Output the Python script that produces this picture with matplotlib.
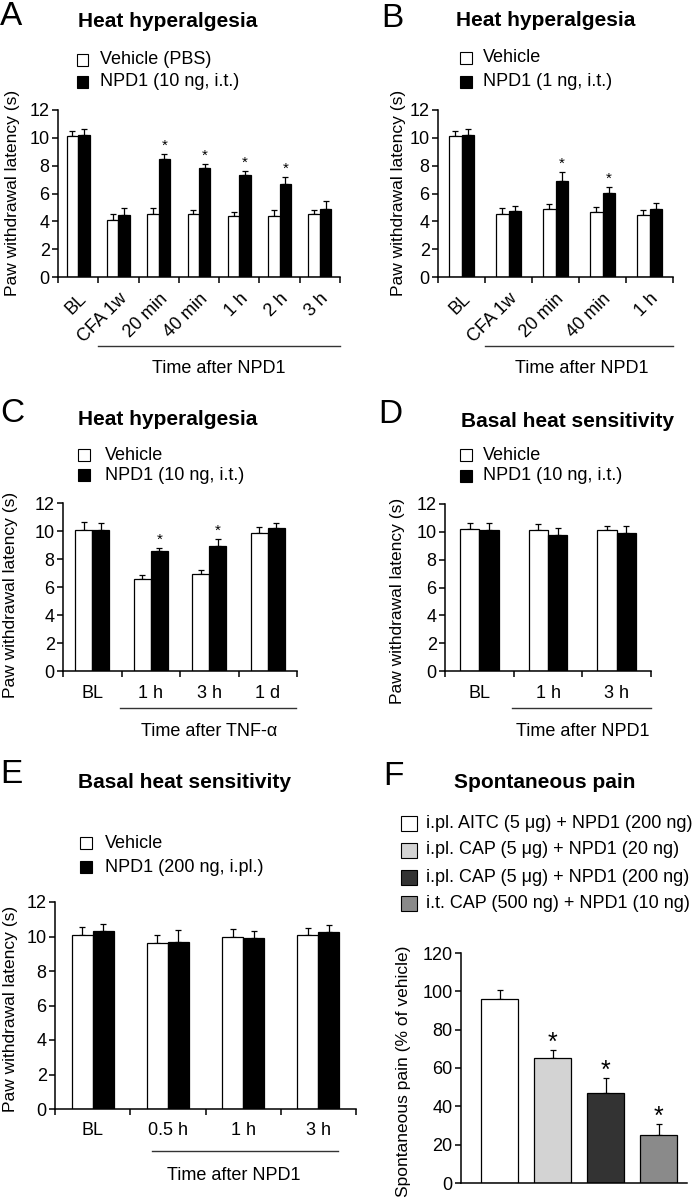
import numpy as np
import matplotlib
matplotlib.use("Agg")
import matplotlib.pyplot as plt
from matplotlib.patches import Rectangle
from matplotlib import transforms

plt.rcParams['font.family'] = ['Liberation Sans', 'DejaVu Sans']

# ---------------- data ----------------
a_cats = ['BL', 'CFA 1w', '20 min', '40 min', '1 h', '2 h', '3 h']
a_veh = [10.1, 4.1, 4.5, 4.5, 4.4, 4.4, 4.5]
a_veh_err = [0.4, 0.4, 0.45, 0.3, 0.3, 0.4, 0.3]
a_npd = [10.2, 4.45, 8.5, 7.8, 7.3, 6.7, 4.9]
a_npd_err = [0.4, 0.5, 0.35, 0.35, 0.35, 0.5, 0.55]
a_stars = [2, 3, 4, 5]

b_cats = ['BL', 'CFA 1w', '20 min', '40 min', '1 h']
b_veh = [10.1, 4.55, 4.9, 4.65, 4.45]
b_veh_err = [0.4, 0.4, 0.35, 0.35, 0.4]
b_npd = [10.2, 4.75, 6.9, 6.05, 4.9]
b_npd_err = [0.4, 0.35, 0.65, 0.45, 0.4]
b_stars = [2, 3]

c_cats = ['BL', '1 h', '3 h', '1 d']
c_veh = [10.05, 6.55, 6.9, 9.85]
c_veh_err = [0.6, 0.3, 0.3, 0.45]
c_npd = [10.1, 8.55, 8.9, 10.2]
c_npd_err = [0.45, 0.25, 0.5, 0.35]
c_stars = [1, 2]

d_cats = ['BL', '1 h', '3 h']
d_veh = [10.2, 10.15, 10.1]
d_veh_err = [0.4, 0.4, 0.35]
d_npd = [10.15, 9.75, 9.9]
d_npd_err = [0.45, 0.5, 0.5]
d_stars = []

e_cats = ['BL', '0.5 h', '1 h', '3 h']
e_veh = [10.1, 9.65, 10.0, 10.1]
e_veh_err = [0.45, 0.45, 0.45, 0.4]
e_npd = [10.3, 9.7, 9.9, 10.25]
e_npd_err = [0.4, 0.65, 0.4, 0.4]
e_stars = []

f_labels = ['i.pl. AITC (5 μg) + NPD1 (200 ng)', 'i.pl. CAP (5 μg) + NPD1 (20 ng)',
            'i.pl. CAP (5 μg) + NPD1 (200 ng)', 'i.t. CAP (500 ng) + NPD1 (10 ng)']
f_vals = [96, 65, 47, 25]
f_err = [4.5, 4.3, 8.0, 5.8]
f_colors = ['white', '#d3d3d3', '#333333', '#8a8a8a']
f_stars = [1, 2, 3]

# ---------------- layout helpers ----------------
W, H = 696, 1199
fig = plt.figure(figsize=(W / 100, H / 100), dpi=100)

TXT = 12.5
TICK = 13
CAT = 13


def add_ax(x0, x1, ytop, ybot):
    ax = fig.add_axes([x0 / W, 1 - ybot / H, (x1 - x0) / W, (ybot - ytop) / H])
    ax.px = (x0, x1, ytop, ybot)
    return ax


def ftext(x, y, s, **kw):
    fig.text(x / W, 1 - y / H, s, **kw)


def legend(x_sq, sq_w, sq_h, x_text, rows, labels, colors, fs=TXT):
    for y, lab, c in zip(rows, labels, colors):
        fig.add_artist(Rectangle((x_sq / W, 1 - (y + sq_h / 2) / H), sq_w / W, sq_h / H,
                                 transform=fig.transFigure, facecolor=c,
                                 edgecolor='black', lw=0.8))
        ftext(x_text, y, lab, ha='left', va='center', fontsize=fs)


def style_axes(ax):
    for s in ['top', 'right']:
        ax.spines[s].set_visible(False)
    for s in ['left', 'bottom']:
        ax.spines[s].set_linewidth(1.1)
    ax.tick_params(axis='y', direction='out', length=4, width=1.1, labelsize=TICK, pad=2)


def set_ylabel(ax, label, right_px, center_px):
    x0, x1, yt, yb = ax.px
    ax.set_ylabel(label, fontsize=TXT)
    ax.yaxis.set_label_coords((right_px - x0) / (x1 - x0), (yb - center_px) / (yb - yt))


def paired(ax, cats, veh, veh_err, npd, npd_err, stars, w, rotate, pad):
    n = len(cats)
    x = np.arange(n) + 0.5
    veh = np.array(veh); npd = np.array(npd)
    ax.bar(x - w / 2, veh, w, color='white', edgecolor='black', lw=0.9, zorder=2)
    ax.bar(x + w / 2, npd, w, color='black', edgecolor='black', lw=0.9, zorder=2)
    ax.errorbar(x - w / 2, veh, yerr=[np.zeros(n), veh_err], fmt='none', ecolor='black',
                elinewidth=0.9, capsize=2.5, capthick=0.9, zorder=1)
    ax.errorbar(x + w / 2, npd, yerr=[np.zeros(n), npd_err], fmt='none', ecolor='black',
                elinewidth=0.9, capsize=2.5, capthick=0.9, zorder=1)
    for i in stars:
        ax.annotate('*', xy=(x[i] + w / 2, npd[i] + npd_err[i]), xytext=(0, 3),
                    textcoords='offset points', ha='center', va='baseline', fontsize=11)
    ax.set_xlim(0, n)
    ax.set_ylim(0, 12)
    ax.set_yticks(np.arange(0, 13, 2))
    ax.set_xticks(np.arange(n + 1))
    ax.set_xticklabels([])
    ax.tick_params(axis='x', which='major', direction='out', length=4, width=1.1)
    ax.set_xticks(x, minor=True)
    if rotate:
        ax.set_xticklabels(cats, minor=True, rotation=45, ha='right', va='top',
                           rotation_mode='anchor', fontsize=CAT)
    else:
        ax.set_xticklabels(cats, minor=True, fontsize=CAT)
    ax.tick_params(axis='x', which='minor', length=0, pad=pad)
    style_axes(ax)


def bracket(ax, x0, x1, y_line, text, x_text, y_text):
    trans = transforms.blended_transform_factory(ax.transData, fig.transFigure)
    ax.plot([x0, x1], [1 - y_line / H] * 2, transform=trans, clip_on=False,
            color='#333333', lw=1.0)
    ax.text(x_text, 1 - y_text / H, text, transform=trans, ha='center', va='center',
            fontsize=TXT + 0.5)


YL = 'Paw withdrawal latency (s)'

# ---------------- Panel A ----------------
axA = add_ax(58, 340, 110, 277)
paired(axA, a_cats, a_veh, a_veh_err, a_npd, a_npd_err, a_stars, 0.285, True, 9.5)
set_ylabel(axA, YL, 20, 193)
bracket(axA, 1, 7, 346, 'Time after NPD1', 4, 368)
ftext(0, 25, 'A', fontsize=24, va='baseline')
ftext(78, 27, 'Heat hyperalgesia', fontsize=15, fontweight='bold', va='baseline')
legend(77, 11.5, 12, 100, [60, 82], ['Vehicle (PBS)', 'NPD1 (10 ng, i.t.)'], ['white', 'black'], 13)

# ---------------- Panel B ----------------
axB = add_ax(438, 673, 110, 277)
paired(axB, b_cats, b_veh, b_veh_err, b_npd, b_npd_err, b_stars, 0.27, True, 9.5)
set_ylabel(axB, YL, 406, 193)
bracket(axB, 1, 5, 346, 'Time after NPD1', 3.05, 368)
ftext(381, 27, 'B', fontsize=24, va='baseline')
ftext(456, 26, 'Heat hyperalgesia', fontsize=15, fontweight='bold', va='baseline')
legend(460, 11.5, 12, 483, [58, 82], ['Vehicle', 'NPD1 (1 ng, i.t.)'], ['white', 'black'], 13)

# ---------------- Panel C ----------------
axC = add_ax(63, 297, 503, 671)
paired(axC, c_cats, c_veh, c_veh_err, c_npd, c_npd_err, c_stars, 0.29, False, 10)
set_ylabel(axC, YL, 18, 595)
bracket(axC, 0.98, 3.98, 708, 'Time after TNF-α', 2.5, 732)
ftext(0, 422, 'C', fontsize=24, va='baseline')
ftext(78, 425, 'Heat hyperalgesia', fontsize=15, fontweight='bold', va='baseline')
legend(78, 11.5, 12, 105, [455, 475], ['Vehicle', 'NPD1 (10 ng, i.t.)'], ['white', 'black'], 13)

# ---------------- Panel D ----------------
axD = add_ax(445, 651, 504, 671)
paired(axD, d_cats, d_veh, d_veh_err, d_npd, d_npd_err, d_stars, 0.28, False, 10)
set_ylabel(axD, YL, 405, 601)
bracket(axD, 0.97, 3.0, 708, 'Time after NPD1', 2.0, 732)
ftext(378, 423, 'D', fontsize=24, va='baseline')
ftext(461, 427, 'Basal heat sensitivity', fontsize=15, fontweight='bold', va='baseline')
legend(460, 11.5, 12, 483, [455, 476], ['Vehicle', 'NPD1 (10 ng, i.t.)'], ['white', 'black'], 13)

# ---------------- Panel E ----------------
axE = add_ax(55, 356, 902, 1109)
paired(axE, e_cats, e_veh, e_veh_err, e_npd, e_npd_err, e_stars, 0.28, False, 9.5)
set_ylabel(axE, YL, 18, 1009)
bracket(axE, 1.29, 3.76, 1151, 'Time after NPD1', 2.38, 1175)
ftext(0, 783, 'E', fontsize=24, va='baseline')
ftext(78, 788, 'Basal heat sensitivity', fontsize=15, fontweight='bold', va='baseline')
legend(80, 12, 12, 105, [843, 867], ['Vehicle', 'NPD1 (200 ng, i.pl.)'], ['white', 'black'], 13)

# ---------------- Panel F ----------------
axF = add_ax(461, 687, 953, 1183)
fx = np.arange(len(f_vals)) + 0.73
axF.bar(fx, f_vals, 0.7, color=f_colors, edgecolor='black', lw=0.9, zorder=2)
axF.errorbar(fx, f_vals, yerr=[np.zeros(len(f_vals)), f_err], fmt='none', ecolor='black',
             elinewidth=0.9, capsize=2.5, capthick=0.9, zorder=1)
for i in f_stars:
    axF.annotate('*', xy=(fx[i], f_vals[i] + f_err[i]), xytext=(0, 0),
                 textcoords='offset points', ha='center', va='baseline', fontsize=18)
axF.set_xlim(0, 4.26)
axF.set_ylim(0, 120)
axF.set_yticks(np.arange(0, 121, 20))
axF.set_xticks([])
style_axes(axF)
set_ylabel(axF, 'Spontaneous pain (% of vehicle)', 411, 1071)
ftext(383, 785, 'F', fontsize=24, va='baseline')
ftext(454, 788, 'Spontaneous pain', fontsize=15, fontweight='bold', va='baseline')
legend(401, 16, 15, 426, [823, 850, 877, 903], f_labels, f_colors, 13)

fig.savefig('out.png', dpi=100)
